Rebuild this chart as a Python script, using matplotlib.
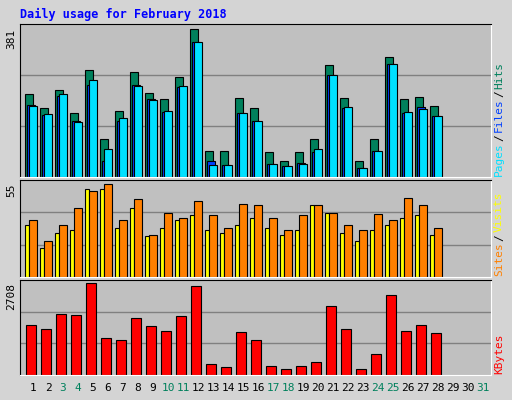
import matplotlib.pyplot as plt
import numpy as np

days = list(range(1, 32))
hits = [213, 177, 223, 164, 275, 97, 169, 270, 216, 200, 257, 381, 68, 66, 203, 177,
        63, 40, 63, 97, 288, 203, 42, 97, 309, 200, 205, 182]
files = [184, 159, 209, 143, 236, 42, 143, 236, 200, 167, 232, 347, 40, 32, 164, 143,
         34, 27, 37, 63, 262, 177, 24, 68, 290, 164, 179, 156]
pages = [182, 161, 213, 141, 249, 71, 151, 234, 197, 169, 234, 347, 32, 32, 164, 143,
         34, 29, 34, 71, 262, 179, 24, 68, 290, 166, 174, 156]
sites = [30.5, 17, 26, 28, 52, 52, 29, 41, 24.5, 29, 33.5, 36.5, 28, 26, 30.5, 35,
         29, 25, 28, 42.5, 38, 26, 21.5, 27.5, 30.5, 35, 36.5, 25]
visits = [33.5, 21.5, 31, 41, 51, 55, 34, 46, 25, 38, 35, 45, 36.5, 29, 43, 42.5,
          35, 27.5, 36.5, 42.5, 38, 31, 27.5, 37, 33.5, 47, 42.5, 29]
kbytes = [1462, 1344, 1788, 1759, 2708, 1107, 1047, 1670, 1433, 1314, 1729, 2618, 336, 247,
          1284, 1047, 277, 188, 277, 395, 2025, 1373, 188, 632, 2351, 1314, 1462, 1255]
weekend = [3, 4, 10, 11, 17, 18, 24, 25, 31]

W, H = 512, 400
fig = plt.figure(figsize=(W / 100, H / 100), dpi=100, facecolor='#d4d4d4')
mono = 'DejaVu Sans Mono'


def panel(y0, y1):
    # pixel box -> figure fraction
    ax = fig.add_axes([20 / W, 1 - y1 / H, 471 / W, (y1 - y0) / H])
    ax.set_facecolor('#c0c0c0')
    ax.set_xlim(1 - 13 / 15, 1 + 458 / 15)
    ax.set_xticks([])
    ax.set_yticks([])
    for s in ax.spines.values():
        s.set_color('white')
    ax.spines['left'].set_color('black')
    ax.spines['top'].set_color('black')
    return ax


def finish(ax, vmax, frac):
    ymax = vmax * frac
    ax.set_ylim(0, ymax)
    for g in (ymax / 3, 2 * ymax / 3):
        ax.axhline(g, color='#808080', lw=1, zorder=0)
    ax.text(-0.018, 1 - (frac - 1) / frac, str(int(vmax)), transform=ax.transAxes,
            rotation=90, ha='center', va='top', fontsize=8, family=mono)


n = len(hits)
x = np.arange(1, n + 1)
kw = dict(align='edge', edgecolor='black', linewidth=0.8)

ax1 = panel(24, 177)
ax1.bar(x - 0.51, hits, width=0.49, color='#00805c', **kw)
ax1.bar(x - 0.38, files, width=0.48, color='#0040ff', **kw)
ax1.bar(x - 0.25, pages, width=0.5, color='#00e0ff', **kw)
finish(ax1, 381, 1.032)

ax2 = panel(180, 277)
ax2.bar(x - 0.51, sites, width=0.26, color='#ffff00', **kw)
ax2.bar(x - 0.25, visits, width=0.5, color='#ff8000', **kw)
finish(ax2, 55, 1.043)

ax3 = panel(280, 375)
ax3.bar(x - 0.45, kbytes, width=0.67, color='#ff0000', **kw)
finish(ax3, 2708, 1.036)

for d in days:
    fig.text((33 + 15 * (d - 1)) / W, 1 - 388 / H, str(d), ha='center', va='center',
             fontsize=8, family=mono, color='#00805c' if d in weekend else 'black')

fig.text(20 / W, 1 - 14 / H, 'Daily usage for February 2018', ha='left', va='center',
         fontsize=8.5, family=mono, weight='bold', color='#0000ff')

renderer = fig.canvas.get_renderer()


# right-side legend labels, stacked bottom to top
def side(y_bottom, parts):
    y = 1 - y_bottom / H
    for txt, col in parts:
        t = fig.text(499 / W, y, txt, rotation=90, ha='center', va='bottom',
                     fontsize=8, family=mono, color=col)
        bb = t.get_window_extent(renderer)
        y += bb.height / H + 1.5 / H

side(176, [('Pages', '#00e0ff'), ('/', 'black'), ('Files', '#0040ff'), ('/', 'black'), ('Hits', '#00805c')])
side(276, [('Sites', '#ff8000'), ('/', 'black'), ('Visits', '#ffff00')])
side(374, [('KBytes', '#ff0000')])

fig.savefig('out.png', dpi=100, facecolor=fig.get_facecolor())
